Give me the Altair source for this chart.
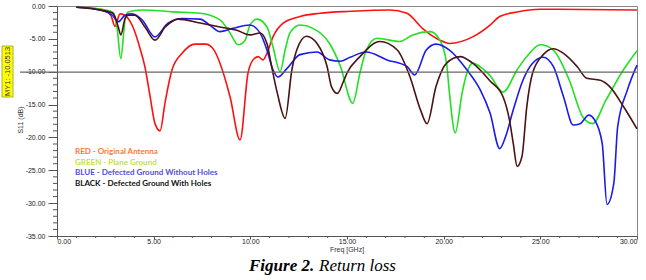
import altair as alt
import pandas as pd

# ---- data ----
freq_red = [1.0, 2.0, 2.5, 2.8, 3.0, 3.26, 3.5, 3.9, 4.3, 4.55, 4.8, 5.07, 5.33, 5.6, 5.95, 6.47, 7.14, 7.7,
            8.1, 8.43, 8.95, 9.47, 9.88, 10.14, 10.4, 10.66, 10.86, 11.17, 11.7, 12.57, 13.6, 15.2, 17.2, 18.1,
            18.9, 19.8, 20.3, 21.5, 22.4, 22.9, 23.8, 25.0, 30.0]
s11_red = [-0.2, -0.4, -0.7, -1.5, -3.1, -1.2, -1.4, -3.0, -6.5, -9.3, -13.5, -17.9, -19.0, -14.5, -9.7, -7.2,
           -5.8, -5.8, -6.6, -8.7, -13.8, -20.4, -10.2, -8.2, -7.7, -8.2, -7.2, -4.7, -2.6, -1.6, -1.1, -0.8,
           -0.6, -1.1, -3.4, -5.2, -5.7, -4.7, -2.9, -1.6, -0.9, -0.5, -0.6]

freq_green = [1.0, 2.0, 2.86, 3.1, 3.3, 3.52, 3.67, 4.4, 6.0, 7.4, 8.43, 8.95, 9.36, 9.73, 9.98, 10.35, 10.86,
              11.17, 11.54, 11.8, 12.05, 12.57, 13.24, 14.1, 14.64, 15.3, 15.67, 16.0, 16.55, 17.74, 18.4, 19.3,
              19.8, 20.15, 20.3, 20.6, 20.95, 21.2, 21.5, 22.0, 22.4, 23.07, 23.8, 24.3, 25.0, 25.67, 26.5, 27.2,
              27.7, 28.4, 29.3, 30.0]
s11_green = [-0.2, -0.4, -0.9, -3.2, -8.0, -2.1, -0.9, -0.6, -0.9, -1.1, -2.1, -4.1, -5.9, -5.2, -2.9, -2.0,
             -3.2, -6.2, -10.0, -6.7, -4.1, -2.9, -3.4, -5.7, -9.0, -14.8, -10.2, -6.7, -4.9, -5.4, -4.4, -3.9,
             -5.2, -8.7, -13.3, -19.3, -13.3, -10.2, -8.7, -9.5, -10.6, -13.1, -9.7, -7.7, -5.9, -6.7, -11.3,
             -16.9, -17.9, -14.3, -9.7, -6.8]

freq_blue = [1.0, 2.0, 2.86, 3.17, 3.52, 3.88, 4.4, 5.07, 5.74, 6.47, 7.4, 7.9, 8.43, 9.1, 9.98, 10.5, 10.86,
             11.17, 11.43, 11.9, 12.57, 13.45, 14.1, 14.64, 15.16, 16.0, 17.07, 18.1, 18.5, 19.1, 19.6, 20.3,
             21.2, 21.9, 22.4, 22.9, 23.2, 23.6, 24.1, 24.6, 25.15, 25.67, 26.2, 26.7, 27.06, 27.5, 27.8, 28.2,
             28.45, 28.8, 29.0, 29.5, 30.0]
s11_blue = [-0.2, -0.5, -1.4, -2.4, -1.4, -1.2, -2.1, -4.7, -2.6, -1.9, -2.0, -2.9, -3.9, -3.4, -2.9, -4.1,
            -6.7, -9.7, -10.8, -9.5, -7.4, -7.0, -8.2, -8.4, -7.8, -7.0, -8.2, -9.2, -10.5, -6.7, -5.8, -6.7,
            -9.7, -12.8, -16.3, -21.7, -19.9, -15.8, -11.3, -8.7, -7.8, -9.2, -13.8, -18.1, -17.9, -16.6,
            -17.3, -20.9, -30.2, -27.0, -18.4, -12.8, -9.0]

freq_black = [1.0, 2.0, 2.9, 3.17, 3.3, 3.52, 3.67, 4.03, 4.55, 5.07, 5.6, 6.26, 7.4, 8.43, 9.3, 9.98, 10.5,
              10.86, 11.1, 11.4, 11.8, 12.15, 12.4, 12.9, 13.45, 13.97, 14.2, 14.5, 14.8, 15.0, 15.67, 16.7,
              17.6, 18.26, 18.8, 19.14, 19.6, 20.15, 20.86, 21.5, 22.4, 23.07, 23.4, 23.6, 23.8, 24.05, 24.3,
              24.6, 25.15, 25.67, 26.2, 26.9, 27.4, 28.1, 28.6, 29.3, 30.0]
s11_black = [-0.2, -0.5, -1.1, -3.2, -4.4, -1.9, -1.4, -1.4, -3.2, -5.2, -3.2, -2.0, -2.6, -3.2, -3.7, -4.4,
             -4.1, -5.7, -9.2, -13.3, -17.1, -9.7, -6.7, -4.6, -5.7, -9.2, -12.3, -13.3, -11.6, -10.2, -7.7,
             -5.4, -6.7, -10.8, -15.8, -17.9, -12.3, -8.7, -7.7, -8.7, -11.4, -13.8, -17.3, -20.9, -24.4,
             -22.9, -15.3, -10.2, -7.4, -6.5, -7.2, -9.2, -11.0, -11.3, -12.3, -15.3, -18.7]

series = ["RED", "GREEN", "BLUE", "BLACK"]
line_colors = ["#FF1010", "#22E022", "#1A1AF0", "#4A1212"]

legend_labels = ["RED - Original Antenna", "GREEN - Plane Ground",
                 "BLUE - Defected Ground Without Holes", "BLACK - Defected Ground With Holes"]
legend_colors = ["#F27A3A", "#C2E24E", "#4F4FD6", "#111111"]

x_major = [0, 5, 10, 15, 20, 25, 30]
y_major = [-35, -30, -25, -20, -15, -10, -5, 0]
x_minor = [v for v in range(0, 31) if v % 5 != 0]
y_minor = [v for v in range(-35, 1) if v % 5 != 0]
marker_level = -10.0513
marker_text = "MY1: -10.0513"

# ---- tables ----
rows = []
for name, fs, vs in [("RED", freq_red, s11_red), ("GREEN", freq_green, s11_green),
                     ("BLUE", freq_blue, s11_blue), ("BLACK", freq_black, s11_black)]:
    for f, v in zip(fs, vs):
        rows.append({"series": name, "freq": f, "s11": v})
df = pd.DataFrame(rows)

leg_df = pd.DataFrame({"label": legend_labels, "tc": legend_colors,
                       "py": [146, 156.5, 167, 177.5]})
one = pd.DataFrame({"a": [0]})

xscale = alt.Scale(domain=[0, 30], nice=False, zero=False)
yscale = alt.Scale(domain=[-35, 0], nice=False)

lab = "(datum.value < 0 ? '-' : '') + format(abs(datum.value), '.2f')"

x_axis = alt.Axis(values=x_major, labelExpr=lab, title=None, grid=False, labelOverlap=False,
                  labelFont="Liberation Sans", labelFontSize=7, labelColor="#222",
                  labelPadding=-2, domainColor="#555", tickColor="#555", tickSize=3)
y_axis = alt.Axis(values=y_major, labelExpr=lab, title=None, grid=False, labelOverlap=False,
                  labelFont="Liberation Sans", labelFontSize=7, labelColor="#222",
                  labelPadding=3, domainColor="#555", tickColor="#555", tickSize=9)

lines = alt.Chart(df).mark_line(strokeWidth=1.6, interpolate="monotone").encode(
    x=alt.X("freq:Q", scale=xscale, axis=x_axis),
    y=alt.Y("s11:Q", scale=yscale, axis=y_axis),
    color=alt.Color("series:N", scale=alt.Scale(domain=series, range=line_colors), legend=None),
)

xminor = alt.Chart(pd.DataFrame({"t": x_minor})).mark_rule(color="#555", strokeWidth=1).encode(
    x=alt.X("t:Q", scale=xscale, axis=x_axis), y=alt.value(230), y2=alt.value(232))
yminor = alt.Chart(pd.DataFrame({"t": y_minor})).mark_rule(color="#555", strokeWidth=1).encode(
    y=alt.Y("t:Q", scale=yscale, axis=y_axis), x=alt.value(-4), x2=alt.value(0))

marker = alt.Chart(pd.DataFrame({"v": [marker_level]})).mark_rule(color="#666666", strokeWidth=1.3).encode(
    y=alt.Y("v:Q", scale=yscale, axis=y_axis), x=alt.value(-37), x2=alt.value(580))

ybox = alt.Chart(one).mark_rect(fill="#FFFF00", stroke="#9a9a30", strokeWidth=0.8).encode(
    x=alt.value(-55), x2=alt.value(-44), y=alt.value(40), y2=alt.value(91))
ytext = alt.Chart(one).mark_text(angle=270, font="Liberation Sans", fontSize=7.5, color="#333").encode(
    x=alt.value(-49.5), y=alt.value(65.5), text=alt.value(marker_text))

ytitle = alt.Chart(one).mark_text(angle=270, font="Liberation Sans", fontSize=7, color="#333").encode(
    x=alt.value(-36), y=alt.value(114), text=alt.value("S11 (dB)"))
xtitle = alt.Chart(one).mark_text(font="Liberation Sans", fontSize=7, color="#333").encode(
    x=alt.value(290), y=alt.value(243.5), text=alt.value("Freq [GHz]"))

legend = alt.Chart(leg_df).mark_text(align="left", baseline="middle", font="Lato",
                                     fontWeight="bold", fontSize=8).encode(
    x=alt.value(18), y=alt.Y("py:Q", scale=None), text="label:N", color=alt.Color("tc:N", scale=None))

cap1 = alt.Chart(one).mark_text(align="left", baseline="middle", font="Liberation Serif",
                                fontSize=17, fontWeight="bold", fontStyle="italic", color="#000").encode(
    x=alt.value(192), y=alt.value(260), text=alt.value("Figure 2."))
cap2 = alt.Chart(one).mark_text(align="left", baseline="middle", font="Liberation Serif",
                                fontSize=17, fontStyle="italic", color="#000").encode(
    x=alt.value(262), y=alt.value(260), text=alt.value("Return loss"))

chart = alt.layer(lines, marker, xminor, yminor, ybox, ytext, ytitle, xtitle, legend, cap1, cap2).properties(
    width=580, height=230,
    autosize=alt.AutoSizeParams(type="none"),
    padding={"left": 57, "top": 6, "right": 9, "bottom": 44},
    background="white",
).configure_view(stroke="#888888", strokeWidth=1)

chart.save("out.html", embed_options={"renderer": "svg", "actions": False})
